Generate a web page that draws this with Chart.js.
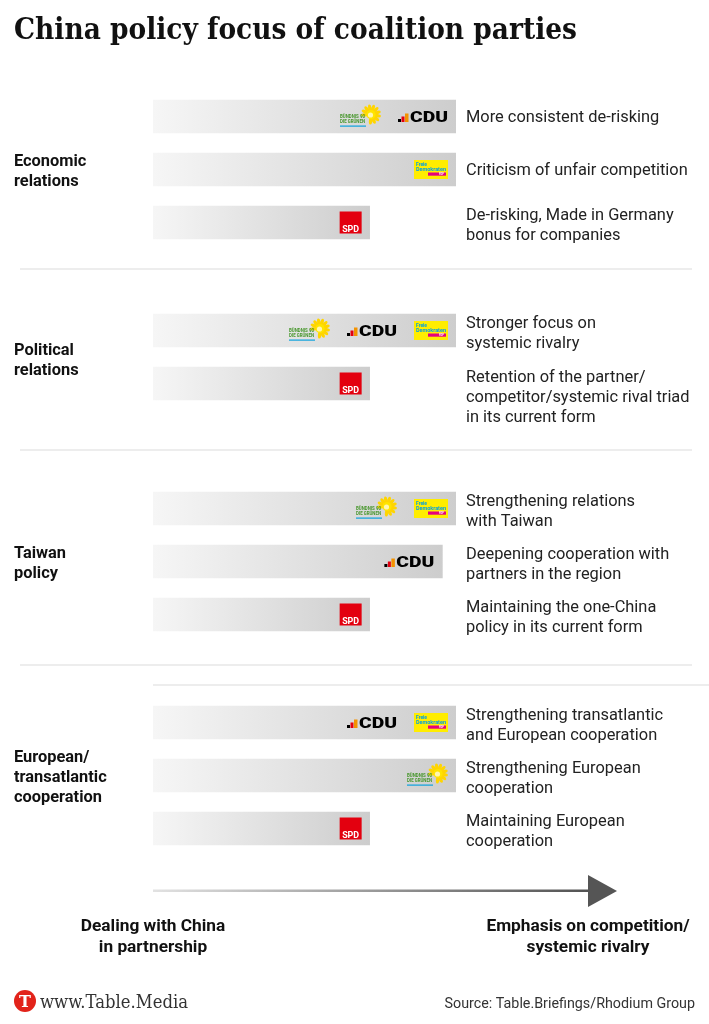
<!DOCTYPE html>
<html><head><meta charset="utf-8">
<script src="https://cdn.jsdelivr.net/npm/chart.js@4"></script>
<style>
html,body{margin:0;padding:0;background:#fff;}
#page{position:relative;width:709px;height:1024px;overflow:hidden;background:#fff;}
canvas{position:absolute;left:0;}
</style></head><body>
<div id="page">
<canvas id="bg" width="709" height="1024" style="top:0"></canvas>
<canvas id="g0" width="709" height="169" style="top:90px"></canvas>
<canvas id="g1" width="709" height="136" style="top:304px"></canvas>
<canvas id="g2" width="709" height="169" style="top:482px"></canvas>
<canvas id="g3" width="709" height="169" style="top:696px"></canvas>
</div>
<script>
// ---------- DATA ----------
const titleText = "China policy focus of coalition parties";
const groupLabels = [["Economic","relations"],["Political","relations"],["Taiwan","policy"],["European/","transatlantic","cooperation"]];

const economicTopics = [["More consistent de-risking"],["Criticism of unfair competition"],["De-risking, Made in Germany","bonus for companies"]];
const economicValues = [10, 10, 7.15];
const economicParties = [["Greens","CDU"],["FDP"],["SPD"]];

const politicalTopics = [["Stronger focus on","systemic rivalry"],["Retention of the partner/","competitor/systemic rival triad","in its current form"]];
const politicalValues = [10, 7.15];
const politicalParties = [["Greens","CDU","FDP"],["SPD"]];

const taiwanTopics = [["Strengthening relations","with Taiwan"],["Deepening cooperation with","partners in the region"],["Maintaining the one-China","policy in its current form"]];
const taiwanValues = [10, 9.55, 7.15];
const taiwanParties = [["Greens","FDP"],["CDU"],["SPD"]];

const europeanTopics = [["Strengthening transatlantic","and European cooperation"],["Strengthening European","cooperation"],["Maintaining European","cooperation"]];
const europeanValues = [10, 10, 7.15];
const europeanParties = [["CDU","FDP"],["Greens"],["SPD"]];

const axisLabels = [["Dealing with China","in partnership"],["Emphasis on competition/","systemic rivalry"]];
const footerLeft = "www.Table.Media";
const footerSource = "Source: Table.Briefings/Rhodium Group";

// ---------- LOGOS ----------
const logoW = {CDU:50, FDP:34, Greens:41, SPD:22};
function fitText(ctx, txt, x, y, w){
  const m = ctx.measureText(txt).width;
  ctx.save(); ctx.translate(x, y); ctx.scale(w/m, 1); ctx.fillText(txt, 0, 0); ctx.restore();
}
function drawCDU(ctx, x, cy){
  const b = cy + 5.5;
  ctx.fillStyle = '#000'; ctx.fillRect(x, b-3, 3, 3);
  ctx.fillStyle = '#e3000f'; ctx.fillRect(x+3.5, b-5.5, 3, 5.5);
  ctx.fillStyle = '#f39200'; ctx.fillRect(x+7, b-8.5, 3.5, 8.5);
  ctx.fillStyle = '#000'; ctx.font = '900 15.5px Roboto'; ctx.textAlign='left'; ctx.textBaseline='alphabetic';
  fitText(ctx, 'CDU', x+12, b, 38);
}
function drawFDP(ctx, x, cy){
  ctx.fillStyle = '#ffed00'; ctx.fillRect(x, cy-9.5, 34, 19);
  ctx.fillStyle = '#009ee3'; ctx.font = 'bold 5px Roboto'; ctx.textAlign='left'; ctx.textBaseline='alphabetic';
  fitText(ctx, 'Freie', x+2, cy-4, 11);
  fitText(ctx, 'Demokraten', x+2, cy+1, 30);
  ctx.fillStyle = '#e5007d'; ctx.fillRect(x+14, cy+3, 18, 3.2);
  ctx.fillStyle = '#fff'; ctx.font = 'bold 3px Roboto';
  fitText(ctx, 'FDP', x+25, cy+5.7, 5);
}
function drawGreens(ctx, x, cy){
  const sx = x+31, sy = cy-2;
  ctx.fillStyle = '#ffd500';
  for (let k=0;k<13;k++){
    const a = k*2*Math.PI/13 - 0.3;
    if (a > 1.9 && a < 2.9) continue;
    ctx.save(); ctx.translate(sx+Math.cos(a)*6.5, sy+Math.sin(a)*6.5); ctx.rotate(a);
    ctx.beginPath(); ctx.ellipse(0,0,3.6,1.7,0,0,2*Math.PI); ctx.fill(); ctx.restore();
  }
  ctx.beginPath(); ctx.arc(sx, sy, 4.6, 0, 2*Math.PI); ctx.fillStyle='#ffe400'; ctx.fill();
  ctx.beginPath(); ctx.arc(sx-0.5, sy+0.5, 2.6, 0, 2*Math.PI); ctx.fillStyle='#fff6b0'; ctx.fill();
  ctx.fillStyle = '#46962b'; ctx.font = 'bold 5px Roboto'; ctx.textAlign='left'; ctx.textBaseline='alphabetic';
  fitText(ctx, 'BÜNDNIS 90', x, cy+1.5, 25);
  fitText(ctx, 'DIE GRÜNEN', x, cy+6.5, 25);
  ctx.fillStyle = '#0ba1dd'; ctx.fillRect(x, cy+9, 26, 1.2);
}
function drawSPD(ctx, x, cy){
  ctx.fillStyle = '#e3000f'; ctx.fillRect(x, cy-11, 22, 22);
  ctx.fillStyle = '#fff'; ctx.font = 'bold 9.5px Roboto'; ctx.textAlign='left'; ctx.textBaseline='alphabetic';
  fitText(ctx, 'SPD', x+2.5, cy+9, 17);
}
const logoDraw = {CDU:drawCDU, FDP:drawFDP, Greens:drawGreens, SPD:drawSPD};

// ---------- CHARTS ----------
function barGradient(c){
  const ch = c.chart;
  if (!ch.chartArea || c.type !== 'data') return '#dcdcdc';
  const xs = ch.scales.x;
  const x0 = xs.getPixelForValue(0), x1 = xs.getPixelForValue(c.raw);
  const g = ch.ctx.createLinearGradient(x0, 0, x1, 0);
  g.addColorStop(0, '#f6f6f6');
  g.addColorStop(1, '#cdcdcd');
  return g;
}
function makeChart(id, gi, topics, values, parties, bottomPad){
  new Chart(document.getElementById(id), {
    type: 'bar',
    data: { labels: topics.map(t => t.join(' ')),
      datasets: [{ data: values, backgroundColor: barGradient, borderWidth: 0, barThickness: 33 }] },
    options: {
      indexAxis: 'y', responsive: false, animation: false, events: [],
      layout: { padding: { left: 153, right: 253, top: 0, bottom: bottomPad } },
      scales: { x: { display: false, min: 0, max: 10 }, y: { display: false } },
      plugins: { legend: { display: false }, tooltip: { enabled: false } }
    },
    plugins: [{
      id: 'deco',
      afterDatasetsDraw(chart){
        const ctx = chart.ctx, meta = chart.getDatasetMeta(0), area = chart.chartArea;
        ctx.save();
        meta.data.forEach((el, i) => {
          let right = el.x - 8;
          const list = parties[i].slice().reverse();
          list.forEach(p => { const w = logoW[p]; logoDraw[p](ctx, right - w, el.y); right -= w + 17; });
          const lines = topics[i];
          const n = lines.length;
          let y0 = el.y + 1 - (n > 1 ? 8 : 0) + (n > 2 ? 1 : 0);
          ctx.fillStyle = '#222'; ctx.font = '16.4px Roboto'; ctx.textAlign = 'left'; ctx.textBaseline = 'middle';
          lines.forEach((ln, k) => ctx.fillText(ln, 466, y0 + k*20));
        });
        const gl = groupLabels[gi];
        const cy = (area.top + area.bottom)/2 + (gl.length === 2 && meta.data.length === 2 ? 3.5 : 2);
        ctx.fillStyle = '#111'; ctx.font = 'bold 16.4px Roboto'; ctx.textAlign = 'left'; ctx.textBaseline = 'middle';
        gl.forEach((ln, k) => ctx.fillText(ln, 14, cy + (k - (gl.length-1)/2)*20));
        ctx.restore();
      }
    }]
  });
}
makeChart('g0', 0, economicTopics, economicValues, economicParties, 10);
makeChart('g1', 1, politicalTopics, politicalValues, politicalParties, 30);
makeChart('g2', 2, taiwanTopics, taiwanValues, taiwanParties, 10);
makeChart('g3', 3, europeanTopics, europeanValues, europeanParties, 10);

// ---------- BACKGROUND ----------
(function(){
  const ctx = document.getElementById('bg').getContext('2d');
  ctx.fillStyle = '#111'; ctx.font = 'bold 29px "DejaVu Serif"'; ctx.textBaseline = 'alphabetic'; ctx.textAlign = 'left';
  fitText(ctx, titleText, 14, 39, 563);
  ctx.fillStyle = '#dcdcdc';
  ctx.fillRect(20, 268.5, 672, 1);
  ctx.fillRect(20, 449.5, 672, 1);
  ctx.fillRect(20, 664.5, 672, 1);
  ctx.fillRect(153, 684.5, 556, 1);
  // arrow
  const g = ctx.createLinearGradient(153, 0, 595, 0);
  g.addColorStop(0, '#e2e2e2'); g.addColorStop(1, '#505050');
  ctx.fillStyle = g; ctx.fillRect(153, 889.5, 440, 2.5);
  ctx.fillStyle = '#555'; ctx.beginPath(); ctx.moveTo(588, 875); ctx.lineTo(617, 891); ctx.lineTo(588, 907); ctx.closePath(); ctx.fill();
  // axis labels
  ctx.fillStyle = '#111'; ctx.font = 'bold 17.3px Roboto'; ctx.textAlign = 'center';
  axisLabels[0].forEach((l,k) => ctx.fillText(l, 153, 931 + k*21));
  axisLabels[1].forEach((l,k) => ctx.fillText(l, 588, 931 + k*21));
  // footer
  ctx.fillStyle = '#e2231a'; ctx.beginPath(); ctx.arc(25, 1001, 11, 0, 2*Math.PI); ctx.fill();
  ctx.fillStyle = '#fff'; ctx.font = 'bold 16px "DejaVu Serif"'; ctx.textAlign = 'center'; ctx.fillText('T', 25, 1007);
  ctx.fillStyle = '#333'; ctx.font = '19px "DejaVu Serif"'; ctx.textAlign = 'left';
  fitText(ctx, footerLeft, 40, 1008, 148);
  ctx.fillStyle = '#333'; ctx.font = '14.3px Roboto'; ctx.textAlign = 'right';
  ctx.fillText(footerSource, 695, 1008);
})();
</script>
</body></html>
